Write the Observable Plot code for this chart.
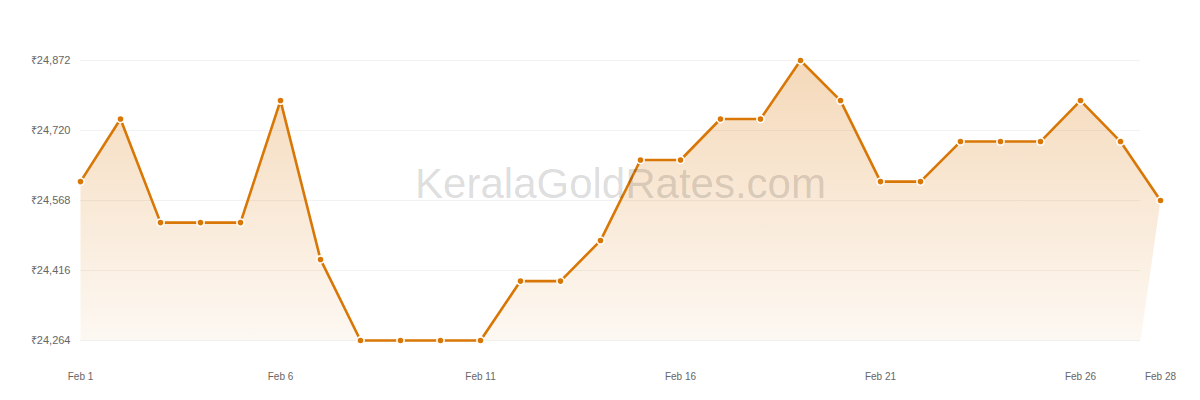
<!DOCTYPE html>
<html>
<head>
<meta charset="utf-8">
<script src="https://cdn.jsdelivr.net/npm/d3@7"></script>
<script src="https://cdn.jsdelivr.net/npm/@observablehq/plot@0.6"></script>
<style>
  html, body { margin: 0; padding: 0; background: #fff; }
  #chart svg { display: block; font-family: "Liberation Sans", Arial, Helvetica, sans-serif; }
</style>
</head>
<body>
<div id="chart"></div>
<script>
const dates = [
  "2025-02-01","2025-02-02","2025-02-03","2025-02-04","2025-02-05","2025-02-06","2025-02-07",
  "2025-02-08","2025-02-09","2025-02-10","2025-02-11","2025-02-12","2025-02-13","2025-02-14",
  "2025-02-15","2025-02-16","2025-02-17","2025-02-18","2025-02-19","2025-02-20","2025-02-21",
  "2025-02-22","2025-02-23","2025-02-24","2025-02-25","2025-02-26","2025-02-27","2025-02-28"
];
const prices = [
  24609, 24745, 24520, 24520, 24520, 24785, 24440,
  24264, 24264, 24264, 24264, 24393, 24393, 24481,
  24656, 24656, 24745, 24745, 24872, 24785, 24609,
  24609, 24696, 24696, 24696, 24785, 24696, 24568
];
const yTicks = [24264, 24416, 24568, 24720, 24872];
const xTickLabels = ["2025-02-01","2025-02-06","2025-02-11","2025-02-16","2025-02-21","2025-02-26","2025-02-28"];
const watermark = "KeralaGoldRates.com";

const parse = d3.utcParse("%Y-%m-%d");
const data = dates.map((d, i) => ({date: parse(d), price: prices[i]}));
const xTicks = xTickLabels.map(parse);

const yMin = d3.min(prices);
const first = data[0].date;
const last = data[data.length - 1].date;
const prev = data[data.length - 2].date;
const gridEnd = new Date((prev.getTime() + last.getTime()) / 2);

// polygon for the filled area (closes at the chart-area edge, like the original)
const areaPoly = [
  ...data,
  {date: gridEnd, price: yMin},
  {date: first, price: yMin}
];

const lineColor = "#d97706";

const defs = () => {
  const ns = "http://www.w3.org/2000/svg";
  const d = document.createElementNS(ns, "defs");
  const g = document.createElementNS(ns, "linearGradient");
  g.setAttribute("id", "goldGrad");
  g.setAttribute("x1", "0"); g.setAttribute("y1", "0");
  g.setAttribute("x2", "0"); g.setAttribute("y2", "1");
  const s1 = document.createElementNS(ns, "stop");
  s1.setAttribute("offset", "0"); s1.setAttribute("stop-color", lineColor); s1.setAttribute("stop-opacity", "0.28");
  const s2 = document.createElementNS(ns, "stop");
  s2.setAttribute("offset", "1"); s2.setAttribute("stop-color", lineColor); s2.setAttribute("stop-opacity", "0.05");
  g.appendChild(s1); g.appendChild(s2); d.appendChild(g);
  return d;
};

const chart = Plot.plot({
  width: 1200,
  height: 400,
  marginLeft: 80,
  marginRight: 40,
  marginTop: 60,
  marginBottom: 60,
  style: {background: "#fff", fontFamily: "Liberation Sans, Arial, sans-serif"},
  x: {type: "utc", domain: [first, last], axis: null, label: null},
  y: {domain: [yMin, d3.max(yTicks)], axis: null, label: null},
  marks: [
    defs,
    Plot.ruleY(yTicks, {x1: first, x2: gridEnd, stroke: "#f2f2f2", strokeWidth: 1}),
    Plot.line(areaPoly, {x: "date", y: "price", fill: "url(#goldGrad)", stroke: "none", curve: "linear"}),
    Plot.axisY(yTicks, {
      label: null, tickSize: 0, tickPadding: 10, fontSize: 11, fill: "#666",
      tickFormat: d => "₹" + d3.format(",")(d)
    }),
    Plot.axisX(xTicks, {
      label: null, tickSize: 0, tickPadding: 32, fontSize: 10, fill: "#666",
      tickFormat: d3.utcFormat("%b %-d")
    }),
    Plot.line(data, {x: "date", y: "price", stroke: lineColor, strokeWidth: 2.6, curve: "linear"}),
    Plot.dot(data, {x: "date", y: "price", r: 3.6, fill: lineColor, stroke: "#fff", strokeWidth: 1.6}),
    Plot.text([watermark], {
      frameAnchor: "middle", text: d => d, fontSize: 42, fill: "#000", fillOpacity: 0.15,
      fontFamily: "Liberation Sans, Arial, sans-serif", dy: -16
    })
  ]
});
document.getElementById("chart").appendChild(chart);
</script>
</body>
</html>
